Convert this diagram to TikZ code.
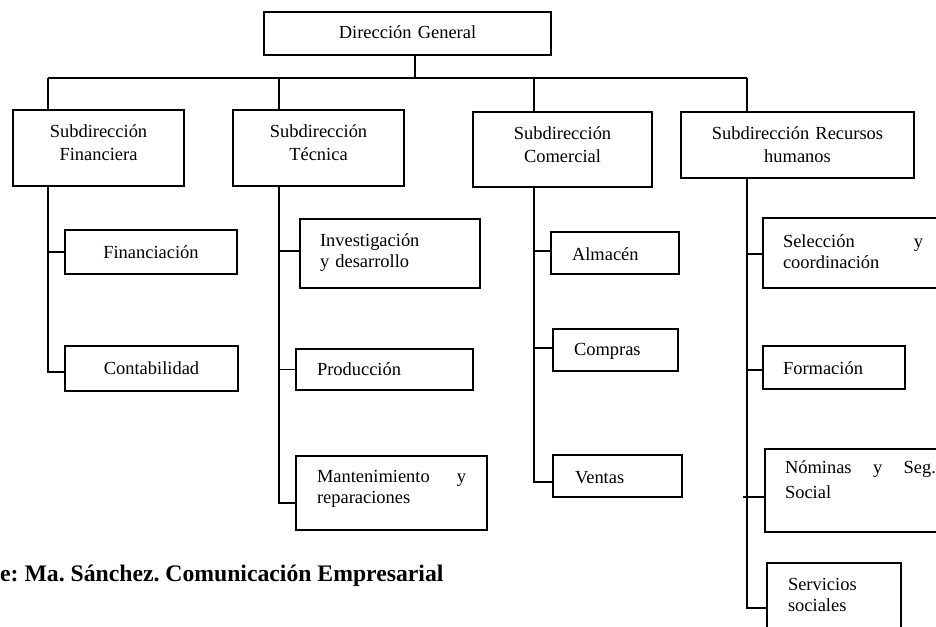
\documentclass[tikz,border=0pt]{standalone}
\usepackage{fontspec}
\setmainfont{Liberation Serif}
\newcommand\fsz{\fontsize{18.46}{21}\selectfont}
\newcommand\fszb{\fontsize{18.46}{23}\selectfont}
\newcommand\fszc{\fontsize{18.46}{25}\selectfont}
\newcommand\fcap{\fontsize{23.7}{28}\selectfont\bfseries}
\frenchspacing
\begin{document}
\begin{tikzpicture}[x=1pt,y=-1pt,
  ln/.style={line width=1.6pt},
  box/.style={draw, line width=1.6pt, inner ysep=0pt, anchor=base, font=\fsz},
  cbox/.style={box, inner xsep=0pt, align=center},
  lbox/.style={box, align=left}]
\useasboundingbox (0,0) rectangle (936,626);
\clip (0,0) rectangle (936,626);
\fill[white] (0,0) rectangle (936,626);
% top
\node[cbox, text width=287pt, text height=27pt, text depth=16pt] (dg) at (407.5,39) {Dirección General};
% second level
\node[cbox, font=\fszb, text width=171pt, text height=27pt, text depth=49pt] (sf) at (98.5,137) {Subdirección\\Financiera};
\node[cbox, font=\fszb, text width=171pt, text height=27pt, text depth=49pt] (st) at (318.5,137) {Subdirección\\Técnica};
\node[cbox, font=\fszb, text width=179pt, text height=27pt, text depth=48pt] (sc) at (562.5,139) {Subdirección\\Comercial};
\node[cbox, font=\fszb, text width=233pt, text height=27pt, text depth=39pt] (sr) at (797.5,139) {Subdirección Recursos\\humanos};
% financiera
\node[cbox, text width=172pt, text height=28pt, text depth=16pt] (fin) at (151,258) {Financiación};
\node[cbox, text width=173pt, text height=28pt, text depth=17pt] (cont) at (151.5,374) {Contabilidad};
% tecnica
\node[lbox, text width=140pt, inner xsep=20pt, text height=27.5pt, text depth=41.5pt] (inv) at (390,246.5) {Investigación\\y desarrollo};
\node[lbox, text width=135pt, inner xsep=21pt, text height=26pt, text depth=15pt] (prod) at (384.5,375) {Producción};
\node[lbox, text width=149pt, inner xsep=21pt, text height=26pt, text depth=48pt] (mant) at (391.5,482) {Mantenimiento\hfill y\\reparaciones};
% comercial
\node[lbox, text width=86pt, inner xsep=21pt, text height=28pt, text depth=14pt] (alm) at (615,260) {Almacén};
\node[lbox, text width=83pt, inner xsep=21pt, text height=26pt, text depth=16pt] (comp) at (615.5,355) {Compras};
\node[lbox, text width=85pt, inner xsep=22pt, text height=28pt, text depth=14pt] (vent) at (617.5,483) {Ventas};
% rrhh
\node[lbox, text width=140pt, inner xsep=20pt, text height=29pt, text depth=41pt] (sel) at (853,247) {Selección\hfill y\\coordinación};
\node[lbox, text width=102pt, inner xsep=20pt, text height=28pt, text depth=15pt] (form) at (834,374) {Formación};
\node[lbox, font=\fszc, text width=151pt, inner xsep=20pt, text height=24pt, text depth=59pt] (nom) at (860.5,473) {Nóminas\hfill y\hfill Seg.\\Social};
\node[lbox, text width=92pt, inner xsep=21pt, text height=27pt, text depth=60pt] (serv) at (834,590) {Servicios\\sociales};
% caption
\node[anchor=base west, inner sep=0pt, font=\fcap] (cap) at (0,581) {e: Ma. Sánchez. Comunicación Empresarial};
% connectors
\coordinate (hub) at (415,78);
\coordinate (k1) at (48,78);
\coordinate (k2) at (279,78);
\coordinate (k3) at (534,78);
\coordinate (k4) at (747,78);
\draw[ln] (dg.south -| hub) -- (hub);
\draw[ln] (k1) -- (k4);
\draw[ln] (k1) -- (k1 |- sf.north);
\draw[ln] (k2) -- (k2 |- st.north);
\draw[ln] (k3) -- (k3 |- sc.north);
\draw[ln] (k4) -- (k4 |- sr.north);
\draw[ln] (k1 |- sf.south) |- ([yshift=-3.5pt]cont.west);
\draw[ln] (fin.west) -- (fin.west -| k1);
\draw[ln] (k2 |- st.south) |- ([yshift=-10pt]mant.west);
\draw[ln] ([yshift=2.5pt]inv.west) -- ([yshift=2.5pt]inv.west -| k2);
\draw[ln] (prod.west) -- (prod.west -| k2);
\draw[ln] (k3 |- sc.south) |- ([yshift=-6pt]vent.west);
\draw[ln] ([yshift=2pt]alm.west) -- ([yshift=2pt]alm.west -| k3);
\draw[ln] ([yshift=2pt]comp.west) -- ([yshift=2pt]comp.west -| k3);
\draw[ln] (k4 |- sr.south) |- ([yshift=-1.5pt]serv.west);
\draw[ln] ([yshift=-1pt]sel.west) -- ([yshift=-1pt]sel.west -| k4);
\draw[ln] ([yshift=-2.5pt]form.west) -- ([yshift=-2.5pt]form.west -| k4);
\draw[ln] ([yshift=-6.5pt]nom.west) -- ([yshift=-6.5pt,xshift=-4pt]nom.west -| k4);
\end{tikzpicture}
\end{document}
